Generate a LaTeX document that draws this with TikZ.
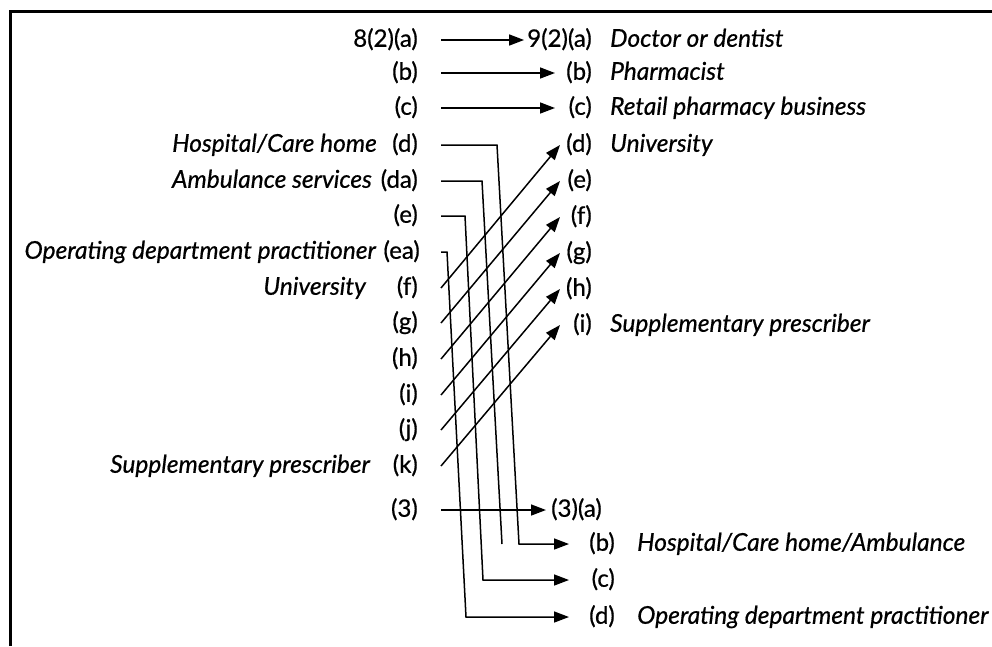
\documentclass[tikz,border=0pt]{standalone}
\usepackage{fontspec}
\setmainfont{Lato}[FakeBold=0.6]
\usetikzlibrary{arrows.meta}
\begin{document}
\begin{tikzpicture}[x=1pt,y=-1pt,
  txt/.style={inner sep=0pt, text height=17.5pt, text depth=4pt, font=\fontsize{24}{27}\selectfont},
  desc/.style={txt, font=\fontsize{24.5}{28}\selectfont\itshape},
  conn/.style={line width=1.5pt, line join=miter},
  arr/.style={conn, -{Triangle[length=15pt,width=11pt]}}]
\useasboundingbox (0,0) rectangle (992,646);
% frame
\draw[line width=3pt] (10,646) -- (10,11) -- (992,11);
% helper x positions
\coordinate (sx) at (441,0);
\coordinate (tipbc) at (555,0);
\coordinate (tipdiag) at (560,0);
\coordinate (tipbot) at (569,0);
\coordinate (tip3) at (546,0);
% left column
\node[txt, anchor=east] (La) at (418,40) {8(2)(a)};
\node[txt, anchor=east] (Lb) at (418,73) {(b)};
\node[txt, anchor=east] (Lc) at (418,108) {(c)};
\node[txt, anchor=east] (Ld) at (418,145) {(d)};
\node[desc, anchor=east] (Ldt) at (377,145) {Hospital/Care home};
\node[txt, anchor=east] (Lda) at (418,181) {(da)};
\node[desc, anchor=east] (Ldat) at (372,181) {Ambulance services};
\node[txt, anchor=east] (Le) at (418,216) {(e)};
\node[txt, anchor=east] (Lea) at (420,252) {(ea)};
\node[desc, anchor=east] (Leat) at (376,252) {Operating department practitioner};
\node[txt, anchor=east] (Lf) at (418,288) {(f)};
\node[desc, anchor=east] (Lft) at (366,288) {University};
\node[txt, anchor=east] (Lg) at (418,323) {(g)};
\node[txt, anchor=east] (Lh) at (418,359) {(h)};
\node[txt, anchor=east] (Li) at (418,395) {(i)};
\node[txt, anchor=east] (Lj) at (418,430) {(j)};
\node[txt, anchor=east] (Lk) at (418,466) {(k)};
\node[desc, anchor=east] (Lkt) at (370,466) {Supplementary prescriber};
\node[txt, anchor=east] (L3) at (418,510) {(3)};
% right column (top)
\node[txt, anchor=east] (Ra) at (592,40) {9(2)(a)};
\node[desc, anchor=west] (Rat) at (610,40) {Doctor or dentist};
\node[txt, anchor=east] (Rb) at (592,73) {(b)};
\node[desc, anchor=west] (Rbt) at (610,73) {Pharmacist};
\node[txt, anchor=east] (Rc) at (592,108) {(c)};
\node[desc, anchor=west] (Rct) at (610,108) {Retail pharmacy business};
\node[txt, anchor=east] (Rd) at (592,145) {(d)};
\node[desc, anchor=west] (Rdt) at (610,145) {University};
\node[txt, anchor=east] (Re) at (592,181) {(e)};
\node[txt, anchor=east] (Rf) at (592,217) {(f)};
\node[txt, anchor=east] (Rg) at (592,253) {(g)};
\node[txt, anchor=east] (Rh) at (592,289) {(h)};
\node[txt, anchor=east] (Ri) at (592,325) {(i)};
\node[desc, anchor=west] (Rit) at (610,325) {Supplementary prescriber};
% right column (bottom)
\node[txt, anchor=west] (R3a) at (551,510) {(3)(a)};
\node[txt, anchor=east] (R3b) at (615,544) {(b)};
\node[desc, anchor=west] (R3bt) at (637,544) {Hospital/Care home/Ambulance};
\node[txt, anchor=east] (R3c) at (615,580) {(c)};
\node[txt, anchor=east] (R3d) at (615,617) {(d)};
\node[desc, anchor=west] (R3dt) at (637,617) {Operating department practitioner};
% bend points
\coordinate (bd1) at (497,145); \coordinate (bd2) at (519,544);
\coordinate (bda1) at (482,181); \coordinate (bda2) at (502,544);
\coordinate (be1) at (465,216); \coordinate (be2) at (483,580);
\coordinate (bea1) at (447,252); \coordinate (bea2) at (466,617);
% straight connectors
\draw[arr] (La.east -| sx) -- ([xshift=-3pt]Ra.west);
\draw[arr] (Lb.east -| sx) -- (Rb.west -| tipbc);
\draw[arr] (Lc.east -| sx) -- (Rc.west -| tipbc);
% diagonals
\draw[arr] (Lf.east -| sx) -- (Rd.west -| tipdiag);
\draw[arr] (Lg.east -| sx) -- (Re.west -| tipdiag);
\draw[arr] (Lh.east -| sx) -- (Rf.west -| tipdiag);
\draw[arr] (Li.east -| sx) -- (Rg.west -| tipdiag);
\draw[arr] (Lj.east -| sx) -- (Rh.west -| tipdiag);
\draw[arr] (Lk.east -| sx) -- (Ri.west -| tipdiag);
% bent connectors
\draw[arr] (Ld.east -| sx) -- (bd1) -- (bd2) -- (R3b.west -| tipbot);
\draw[conn] (Lda.east -| sx) -- (bda1) -- (bda2);
\draw[arr] (Le.east -| sx) -- (be1) -- (be2) -- (R3c.west -| tipbot);
\draw[arr] (Lea.east -| sx) -- (bea1) -- (bea2) -- (R3d.west -| tipbot);
\draw[arr] (L3.east -| sx) -- (R3a.west -| tip3);
\end{tikzpicture}
\end{document}
